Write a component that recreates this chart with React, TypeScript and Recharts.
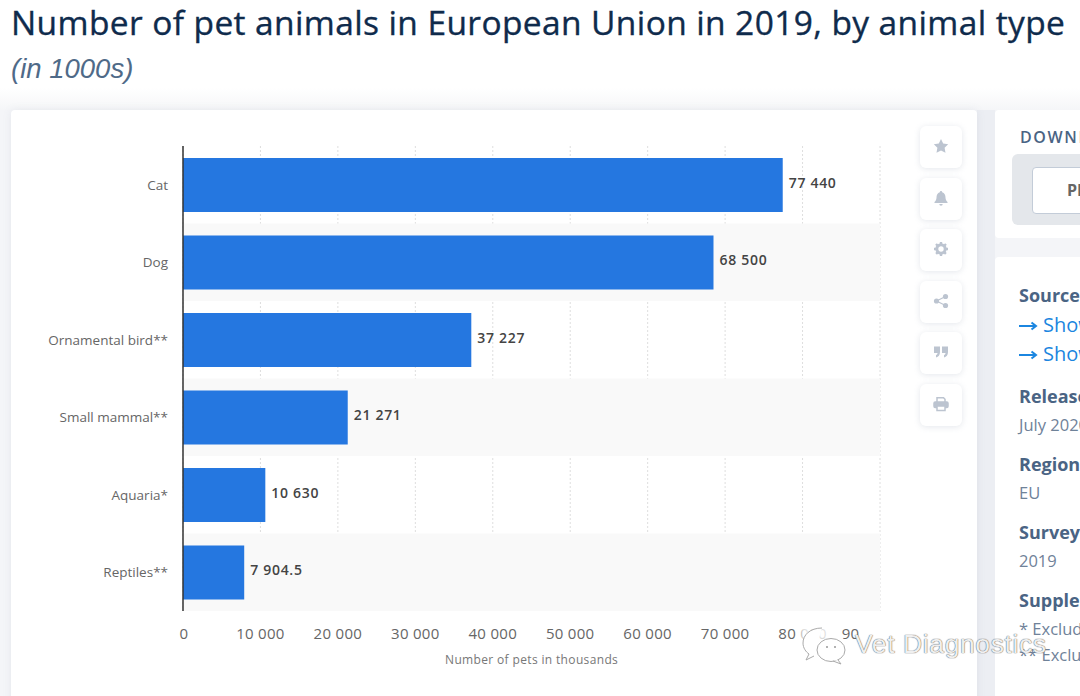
import React from "react";
import {
  BarChart,
  Bar,
  CartesianGrid,
  XAxis,
  YAxis,
  LabelList,
  ReferenceArea,
} from "recharts";

const animals = ["Cat", "Dog", "Ornamental bird**", "Small mammal**", "Aquaria*", "Reptiles**"];
const petCounts = [77440, 68500, 37227, 21271, 10630, 7904.5];
const stripedAnimals = ["Dog", "Small mammal**", "Reptiles**"];
const xTicks = [0, 10000, 20000, 30000, 40000, 50000, 60000, 70000, 80000, 90000];

const chartData = animals.map((name, i) => ({ name, pets: petCounts[i] }));

const fontFamily = "'Open Sans', sans-serif";

const formatNumber = (v: number) => {
  const [whole, dec] = String(v).split(".");
  const spaced = whole.replace(/\B(?=(\d{3})+$)/g, " ");
  return dec ? `${spaced}.${dec}` : spaced;
};

const abs = (left: number, top: number, extra: React.CSSProperties = {}): React.CSSProperties => ({
  position: "absolute",
  left,
  top,
  whiteSpace: "nowrap",
  ...extra,
});

const iconTops = [126, 178, 229, 281, 332, 384];
const iconColor = "#bcc4d0";

const icons = [
  <path key="star" d="M8 1l2.2 4.6 5 .7-3.6 3.5.9 5L8 12.4 3.5 14.800l.9-5L.8 6.300l5-.7z" fill={iconColor} />,
  <path key="bell" d="M8 1a1.200 1.200 0 0 1 1.200 1.300C11.500 3 12.500 5 12.500 7.500c0 2.500 1 3.500 2 4.500v1h-13v-1c1-1 2-2 2-4.500 0-2.500 1-4.500 3.300-5.200A1.200 1.200 0 0 1 8 1zM6.300 14h3.400a1.700 1.700 0 0 1-3.400 0z" fill={iconColor} />,
  <g key="gear">
    <circle cx="8" cy="8" r="4.200" fill="none" stroke={iconColor} strokeWidth="3" />
    <path d="M8 1v14M1 8h14M3 3l10 10M13 3L3 13" stroke={iconColor} strokeWidth="2.400" strokeDasharray="2.500 9 2.500" />
  </g>,
  <g key="share" fill={iconColor}>
    <circle cx="3.500" cy="8" r="2.600" />
    <circle cx="12.500" cy="3.500" r="2.600" />
    <circle cx="12.500" cy="12.500" r="2.600" />
    <path d="M3.500 8l9-4.500M3.500 8l9 4.500" stroke={iconColor} strokeWidth="1.300" />
  </g>,
  <g key="quote" fill={iconColor}>
    <path d="M1 2.500h6V8c0 3-1.500 5-4 5.500v-2.500c1-.3 1.500-1 1.500-2H1z" />
    <path d="M9 2.500h6V8c0 3-1.500 5-4 5.500v-2.500c1-.3 1.500-1 1.500-2H9z" />
  </g>,
  <g key="print" fill="none" stroke={iconColor} strokeWidth="1.500">
    <path d="M4 6V1.800h6.500L12 3.300V6" />
    <rect x="1" y="6" width="14" height="5.500" rx="1.200" fill={iconColor} />
    <rect x="4" y="10" width="8" height="4.500" fill="#fff" />
  </g>,
];

const heading: React.CSSProperties = { fontSize: 18, fontWeight: 700, color: "#4a6484", fontFamily };
const bodyText: React.CSSProperties = { fontSize: 16.5, color: "#6f8299", fontFamily };
const linkText: React.CSSProperties = { fontSize: 20, color: "#1b86e0", fontFamily };

// the last label sits left of its gridline in the reference
const XTick = ({ x, y, payload }: any) => (
  <text
    x={payload.value === 90000 ? x - 14 : payload.value === 0 ? x + 1 : x}
    y={y + 15}
    textAnchor="middle"
    fontSize={15}
    fill="#666"
    fontFamily={fontFamily}
    letterSpacing={0.3}
  >
    {formatNumber(payload.value)}
  </text>
);

const Arrow = ({ top }: { top: number }) => (
  <svg width="20" height="10" viewBox="0 0 20 10" style={{ position: "absolute", left: 1019, top }}>
    <path d="M0 5h16M12.500 1.500L17 5l-4.500 3.500" fill="none" stroke="#1b86e0" strokeWidth="2" />
  </svg>
);

export default function App() {
  return (
    <div style={{ position: "absolute", left: 0, top: 0, width: 1080, height: 696, overflow: "hidden", background: "#f4f5f8" }}>
      <div style={{ ...abs(0, 0), width: 1080, height: 110, background: "linear-gradient(#fff 0, #fff 88px, #f5f6f8 110px)" }} />
      <div style={{ ...abs(977, 110), width: 18, height: 586, background: "#eceef3" }} />
      <div style={abs(11, -1, { fontSize: 33.5, fontWeight: 500, color: "#0f2b4c", fontFamily, letterSpacing: 0.39, WebkitTextStroke: "0.35px #0f2b4c" })}>
        Number of pet animals in European Union in 2019, by animal type
      </div>
      <div style={abs(11, 53, { fontSize: 27.5, fontStyle: "italic", color: "#4f6a88", fontFamily: "'Liberation Sans', sans-serif" })}>
        (in 1000s)
      </div>

      <div style={{ ...abs(11, 110), width: 966, height: 600, background: "#fff", borderRadius: 4, boxShadow: "0 0 8px rgba(120,135,160,.12)" }} />
      <div style={{ ...abs(995, 110), width: 120, height: 128, background: "#fff", borderRadius: 4 }} />
      <div style={{ ...abs(995, 257), width: 120, height: 460, background: "#fff", borderRadius: 4 }} />

      <div style={abs(1020, 126, { fontSize: 16, letterSpacing: 1.6, fontWeight: 600, color: "#4a6484", fontFamily })}>DOWNLOAD</div>
      <div style={{ ...abs(1012, 154), width: 90, height: 71, background: "#e4e7eb", borderRadius: 6 }} />
      <div style={{ ...abs(1032, 167), width: 80, height: 45, background: "#fff", border: "1px solid #c3ccd8", borderRadius: 4 }} />
      <div style={abs(1067, 179, { fontSize: 16, fontWeight: 700, color: "#666", fontFamily })}>PDF</div>

      <div style={abs(1019, 283, heading)}>Source</div>
      <Arrow top={321} />
      <div style={abs(1043, 311, linkText)}>Show</div>
      <Arrow top={350} />
      <div style={abs(1043, 340, linkText)}>Show</div>
      <div style={abs(1019, 384, heading)}>Release date</div>
      <div style={abs(1019, 413, bodyText)}>July 2020</div>
      <div style={abs(1019, 452, heading)}>Region</div>
      <div style={abs(1019, 481, bodyText)}>EU</div>
      <div style={abs(1019, 520, heading)}>Survey time</div>
      <div style={abs(1019, 549, bodyText)}>2019</div>
      <div style={abs(1019, 588, heading)}>Supplementary</div>
      <div style={abs(1019, 617, bodyText)}>* Excluding</div>
      <div style={abs(1019, 643, bodyText)}>** Excluding</div>

      {iconTops.map((top, i) => (
        <div key={top} style={{ ...abs(920, top), width: 42, height: 42, background: "#fff", borderRadius: 6, boxShadow: "0 1px 6px rgba(120,135,160,.2)" }}>
          <svg width="16" height="16" viewBox="0 0 16 16" style={{ position: "absolute", left: 13, top: 12 }}>
            {icons[i]}
          </svg>
        </div>
      ))}

      <div style={abs(0, 0)}>
        <BarChart
          width={1080}
          height={696}
          data={chartData}
          layout="vertical"
          barSize={54}
          margin={{ top: 146, right: 200, bottom: 45, left: 0 }}
        >
          {stripedAnimals.map((name) => (
            <ReferenceArea key={name} y1={name} y2={name} fill="#f9f9f9" fillOpacity={1} stroke="none" />
          ))}
          <CartesianGrid horizontal={false} stroke="#dedede" strokeDasharray="2 2" />
          <XAxis
            type="number"
            dataKey="pets"
            domain={[0, 90000]}
            ticks={xTicks}
            height={40}
            axisLine={false}
            tickLine={false}
            tickMargin={7}
            interval={0}
            tick={<XTick />}
          />
          <YAxis
            type="category"
            dataKey="name"
            width={183}
            axisLine={{ stroke: "#333", strokeWidth: 1.5 }}
            tickLine={false}
            tickMargin={9}
            interval={0}
            tick={{ fontSize: 13.5, fill: "#666", fontFamily }}
          />
          <Bar dataKey="pets" fill="#2577e0" isAnimationActive={false}>
            <LabelList
              dataKey="pets"
              position="right"
              offset={6}
              dy={-2}
              formatter={(v: any) => formatNumber(Number(v))}
              style={{ fontSize: 14, fontWeight: 600, fill: "#444", fontFamily, letterSpacing: 0.7 }}
            />
          </Bar>
        </BarChart>
      </div>

      <div style={abs(445, 651, { fontSize: 12, color: "#777", fontFamily, letterSpacing: 0.35 })}>
        Number of pets in thousands
      </div>

      <div style={{ ...abs(800, 622), width: 38, height: 20, background: "rgba(255,255,255,.8)", filter: "blur(2px)" }} />
      <div style={{ ...abs(860, 622), width: 34, height: 20, background: "#fff", filter: "blur(1px)" }} />
      <svg width="50" height="42" viewBox="0 0 50 42" style={{ position: "absolute", left: 798, top: 625 }}>
        <path d="M24 3C12 3 5 10 5 18c0 5 3 9 6 11l-3 6 8-4" fill="#fff" stroke="#aaa" strokeWidth="1" />
        <ellipse cx="33" cy="25" rx="14" ry="11.500" fill="#fff" stroke="#aaa" strokeWidth="1" />
        <path d="M40 35l3 4-8-3" fill="#fff" stroke="#aaa" strokeWidth="1" />
        <circle cx="29" cy="22" r="1" fill="#999" />
        <circle cx="37" cy="22" r="1" fill="#999" />
      </svg>
      <div style={abs(855, 629, { fontSize: 26.5, color: "rgba(255,255,255,.92)", textShadow: "0 0 1px #555, 0 0 1px #777", fontFamily: "'Liberation Sans', sans-serif", letterSpacing: 0.6 })}>
        Vet Diagnostics
      </div>
    </div>
  );
}
